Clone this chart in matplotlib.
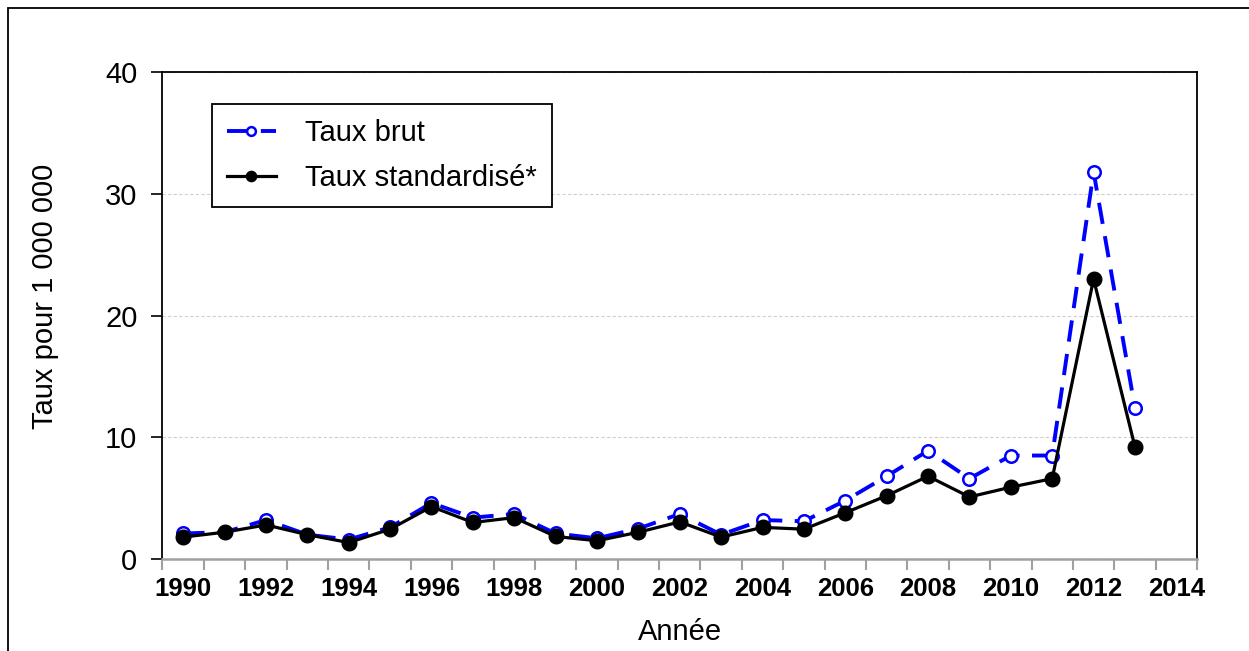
import matplotlib.pyplot as plt
import numpy as np
from matplotlib.patches import Rectangle

plt.rcParams['font.family'] = ['Liberation Sans', 'DejaVu Sans']

# categories on the x axis (one per year)
annees = list(range(1990, 2015))
# taux brut (pour 1 000 000)
taux_brut = [2.1, 2.2, 3.2, 2.0, 1.6, 2.6, 4.6, 3.4, 3.7, 2.1, 1.7, 2.5, 3.7, 2.0,
             3.2, 3.1, 4.8, 6.8, 8.9, 6.6, 8.5, 8.5, 31.8, 12.4]
# taux standardise
taux_std = [1.8, 2.2, 2.8, 2.0, 1.35, 2.45, 4.3, 3.0, 3.4, 1.85, 1.5, 2.2, 3.05, 1.8,
            2.6, 2.45, 3.8, 5.2, 6.8, 5.1, 5.9, 6.6, 23.0, 9.2]

fig = plt.figure(figsize=(12.49, 6.51), dpi=100)
ax = fig.add_axes([0.1301, 0.1413, 0.8283, 0.7481])

# cadre exterieur
fig.patches.append(Rectangle((8/1249, -0.05), 1.1, (651-8)/651 + 0.05, transform=fig.transFigure,
                             fill=False, edgecolor='black', linewidth=1.3))

x = np.arange(len(taux_brut))
ax.plot(x, taux_brut, color='#0000FF', linestyle=(0, (5.5, 3.2)), linewidth=2.8,
        marker='o', markersize=9, markerfacecolor='white', markeredgecolor='#0000FF',
        markeredgewidth=1.8, label='Taux brut', zorder=3)
ax.plot(x, taux_std, color='black', linewidth=2.3, marker='o', markersize=10.5,
        markerfacecolor='black', markeredgecolor='black', label='Taux standardisé*', zorder=4)

ax.set_xlim(-0.5, len(annees) - 0.5)
ax.set_ylim(0, 40)
ax.set_yticks([0, 10, 20, 30, 40])
ax.tick_params(axis='y', direction='out', length=8, width=1.2, labelsize=21, pad=10)

# x : etiquettes une annee sur deux, graduations entre les categories
ax.set_xticks(np.arange(0, len(annees), 2))
ax.set_xticklabels([str(a) for a in annees[::2]], fontweight='bold')
ax.tick_params(axis='x', which='major', length=0, labelsize=18.5, pad=13)
ax.set_xticks(np.arange(-0.5, len(annees), 1), minor=True)
ax.tick_params(axis='x', which='minor', direction='out', length=8, width=1.5, color='#a0a0a0')

ax.grid(axis='y', color='#d0d0d0', linestyle=(0, (3, 2)), linewidth=0.8)
ax.set_axisbelow(True)

for s in ['left', 'top', 'right']:
    ax.spines[s].set_color('black')
    ax.spines[s].set_linewidth(1.3)
ax.spines['bottom'].set_color('#a0a0a0')
ax.spines['bottom'].set_linewidth(1.8)

ax.set_xlabel('Année', fontsize=21, labelpad=12)
ax.set_ylabel('Taux pour 1 000 000', fontsize=21)
ax.yaxis.set_label_coords(-0.1, 0.54)

leg = ax.legend(loc='upper left', bbox_to_anchor=(0.0478, 0.934), fontsize=21, frameon=True,
                fancybox=False, edgecolor='black', framealpha=1, handlelength=1.7,
                handletextpad=1.0, borderpad=0.5, labelspacing=0.6, markerscale=0.7,
                borderaxespad=0)
leg.get_frame().set_linewidth(1.3)

plt.savefig('out.png', dpi=100)
